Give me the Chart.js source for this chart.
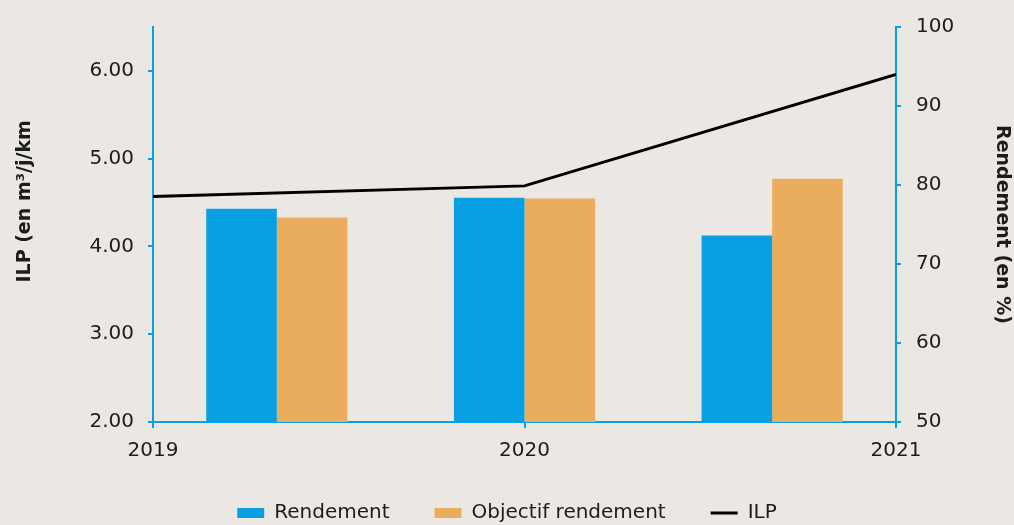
<!DOCTYPE html>
<html>
<head>
<meta charset="utf-8">
<script src="https://cdn.jsdelivr.net/npm/chart.js@4"></script>
<style>
  html, body { margin: 0; padding: 0; background: #ebe8e4; }
  #wrap { width: 1014px; height: 525px; }
</style>
</head>
<body>
<div id="wrap"><canvas id="ilpChart" width="1014" height="525"></canvas></div>
<script>
const years = ['2019', '2020', '2021'];
const yearNums = [2019, 2020, 2021];
const rendement = [77.0, 78.4, 73.6];
const objectifRendement = [75.9, 78.3, 80.8];
const ilp = [4.57, 4.69, 5.96];
const ilpTicks = [2, 3, 4, 5, 6];

const BLUE = 'rgb(8, 160, 227)';
const ORANGE = 'rgb(233, 173, 93)';
const TEXT = '#1c1c1c';

// Chart.js 4.5 splits each category between every x axis used by any dataset.
// Only the bars sit on the category axis here, so give them the whole slot.
class SingleAxisBar extends Chart.BarController {
  _getAxis() {
    return [this.getDataset().xAxisID];
  }
}
SingleAxisBar.id = 'singleAxisBar';
SingleAxisBar.defaults = Chart.BarController.defaults;
SingleAxisBar.overrides = Chart.BarController.overrides;
Chart.register(SingleAxisBar);

Chart.defaults.font.family = '"DejaVu Sans", sans-serif';
Chart.defaults.font.size = 20;
Chart.defaults.color = TEXT;

const data = {
  labels: years,
  datasets: [{
    type: 'singleAxisBar',
    label: 'Rendement',
    backgroundColor: BLUE,
    data: rendement,
    xAxisID: 'xb',
    yAxisID: 'yR',
    categoryPercentage: 0.57,
    barPercentage: 1.0
  }, {
    type: 'singleAxisBar',
    label: 'Objectif rendement',
    backgroundColor: ORANGE,
    data: objectifRendement,
    xAxisID: 'xb',
    yAxisID: 'yR',
    categoryPercentage: 0.57,
    barPercentage: 1.0
  }, {
    type: 'line',
    label: 'ILP',
    borderColor: '#000',
    backgroundColor: '#000',
    borderWidth: 3,
    pointRadius: 0,
    pointStyle: 'line',
    tension: 0,
    data: yearNums.map((x, i) => ({ x: x, y: ilp[i] })),
    xAxisID: 'x',
    yAxisID: 'yL',
    order: -1
  }]
};

const config = {
  type: 'bar',
  data,
  options: {
    responsive: false,
    animation: false,
    layout: { padding: { top: 15, bottom: -8 } },
    scales: {
      xb: {
        type: 'category',
        display: false,
        offset: true
      },
      x: {
        type: 'linear',
        position: 'bottom',
        offset: false,
        min: 2019,
        max: 2021,
        afterBuildTicks: scale => { scale.ticks = yearNums.map(v => ({ value: v })); },
        afterFit: scale => { scale.height = 36; },
        border: { color: BLUE, width: 2 },
        grid: { offset: false, drawOnChartArea: false, color: BLUE, tickLength: 6, lineWidth: 2 },
        ticks: { padding: 11, callback: v => String(v) }
      },
      yL: {
        type: 'linear',
        position: 'left',
        min: 2,
        max: 6.5,
        afterBuildTicks: scale => { scale.ticks = ilpTicks.map(v => ({ value: v })); },
        afterFit: scale => { scale.width = 153; },
        border: { color: BLUE, width: 2 },
        grid: { drawOnChartArea: false, color: BLUE, tickLength: 5, lineWidth: 2 },
        ticks: { padding: 14, callback: v => v.toFixed(2) },
        title: {
          display: true,
          // leading spaces lift the centred title a little
          text: '\u00a0\u00a0\u00a0\u00a0\u00a0\u00a0\u00a0ILP (en m³/j/km',
          font: { size: 19, weight: 'bold' },
          padding: { top: 14, bottom: 0 }
        }
      },
      yR: {
        type: 'linear',
        position: 'right',
        min: 50,
        max: 100,
        afterFit: scale => { scale.width = 118; },
        border: { color: BLUE, width: 2 },
        grid: { drawOnChartArea: false, color: BLUE, tickLength: 5, lineWidth: 2 },
        ticks: { stepSize: 10, padding: 15 },
        title: {
          display: true,
          text: 'Rendement (en %)',
          font: { size: 19, weight: 'bold' },
          padding: { top: 1, bottom: 0 }
        }
      }
    },
    plugins: {
      tooltip: { enabled: false },
      legend: {
        position: 'bottom',
        labels: {
          usePointStyle: true,
          pointStyleWidth: 27,
          boxHeight: 10,
          padding: 45,
          font: { size: 20 },
          generateLabels: chart => chart.data.datasets.map((ds, i) => ({
            text: ds.label,
            fillStyle: ds.backgroundColor,
            strokeStyle: ds.type === 'line' ? ds.borderColor : ds.backgroundColor,
            lineWidth: ds.type === 'line' ? 3 : 0,
            pointStyle: ds.type === 'line' ? 'line' : 'rect',
            fontColor: TEXT,
            hidden: false,
            datasetIndex: i
          }))
        }
      }
    }
  }
};

new Chart(document.getElementById('ilpChart'), config);
</script>
</body>
</html>
